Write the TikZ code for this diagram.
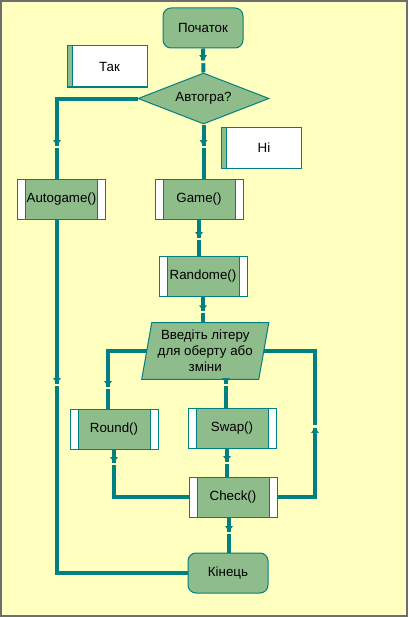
\documentclass[tikz,border=0pt]{standalone}
\usepackage{fontspec}
\setmainfont{Liberation Sans}
\usetikzlibrary{shapes.geometric,arrows.meta,decorations.markings,calc,backgrounds}
\definecolor{bgc}{RGB}{255,255,192}
\definecolor{tealc}{RGB}{0,128,128}
\definecolor{gfill}{RGB}{143,188,139}
\definecolor{framec}{RGB}{110,110,110}
\begin{document}
\begin{tikzpicture}[x=0.75pt,y=-0.75pt,
  every node/.style={font=\fontsize{10pt}{12pt}\selectfont, text=black, inner sep=0pt},
  term/.style={draw=tealc, line width=0.75pt, fill=gfill, rounded corners=6pt, minimum width=60pt, minimum height=30pt},
  dec/.style={diamond, aspect=2.57, draw=tealc, line width=0.75pt, fill=gfill, minimum width=98.25pt, minimum height=38.25pt},
  sub/.style={draw=tealc, line width=0.75pt, fill=white, minimum width=66pt, minimum height=30pt,
     path picture={\fill[gfill] ([xshift=6pt]path picture bounding box.south west) rectangle ([xshift=-6pt]path picture bounding box.north east);
       \draw[tealc, line width=0.75pt] ([xshift=6pt]path picture bounding box.south west) -- ([xshift=6pt]path picture bounding box.north west)
        ([xshift=-6pt]path picture bounding box.south east) -- ([xshift=-6pt]path picture bounding box.north east);}},
  note/.style={draw=tealc, line width=0.75pt, fill=white, minimum width=60pt, minimum height=30.75pt,
     path picture={\fill[gfill] (path picture bounding box.south west) rectangle ([xshift=3.75pt]path picture bounding box.north west);
       \draw[tealc,line width=0.75pt] ([xshift=3.75pt]path picture bounding box.south west) -- ([xshift=3.75pt]path picture bounding box.north west);}},
  iobox/.style={minimum width=87.4pt, minimum height=42pt, align=center},
  conn/.style={draw=tealc, line width=3pt},
  midarr/.style={postaction={decorate, decoration={markings, mark=at position #1 with {\fill[bgc] (0pt,-2.2pt) rectangle (2pt,2.2pt); \arrow[color=tealc]{Triangle[width=5.5pt,length=4pt]}}}}}
]
\useasboundingbox (0,0) rectangle (408,617);
\begin{scope}[on background layer]
  \fill[bgc] (0,0) rectangle (408,617);
  \draw[framec, line width=1.5pt] (1,1) rectangle (407,616);
\end{scope}

\node[term] (start) at (203,28) {Початок};
\node[note] (tak) at (107,66.5) {\hspace*{3.75pt}Так};
\node[dec] (dia) at (203.5,98.5) {Автогра?};
\node[note] (ni) at (261.5,148) {\hspace*{3.75pt}Ні};
\node[sub] (auto) at (61.5,199) {Autogame()};
\node[sub] (game) at (199,199) {Game()};
\node[sub] (rand) at (203,276) {Randome()};
\node[iobox] (para) at (205.25,351) {Введіть літеру\\для оберту або\\зміни};
\begin{scope}[on background layer]
  \draw[tealc, line width=0.75pt, fill=gfill] ($(para.north west)+(5,0)$) -- ($(para.north east)+(5,0)$) -- ($(para.south east)+(-5,0)$) -- ($(para.south west)+(-5,0)$) -- cycle;
\end{scope}
\node[sub] (round) at (114,429) {Round()};
\node[sub] (swap) at (232,428) {Swap()};
\node[sub] (check) at (233,497) {Check()};
\node[term] (end) at (228,573) {Кінець};
\coordinate (loop) at (315,351);

\draw[conn, midarr=-9pt] (start.south) -- (dia.north);
\draw[conn, midarr=-24.75pt] (dia.west) -| ([xshift=-3.375pt]auto.north);
\draw[conn, midarr=-24.75pt] (dia.south) -- (dia.south |- game.north);
\draw[conn, midarr=-13.5pt] (game.south) -- (game.south |- rand.north);
\draw[conn, midarr=-9pt] (rand.south) -- (rand.south |- para.north);
\draw[conn, midarr=-16.5pt] (para.west) -| ([xshift=-4.5pt]round.north);
\draw[conn, midarr=-18pt] ([xshift=-4.5pt]swap.north |- para.south) -- ([xshift=-4.5pt]swap.north);
\draw[conn, midarr=9.75pt] (round.south) |- (check.west);
\draw[conn, midarr=-11.25pt] ([xshift=-3.75pt]swap.south) -- ([xshift=-3.75pt]swap.south |- check.north);
\draw[conn, midarr=80.25pt] (check.east) -| (loop) -- (para.east);
\draw[conn, midarr=-15.75pt] ([xshift=-3pt]check.south) -- ([xshift=-3pt]check.south |- end.north);
\draw[conn, midarr=123pt] ([xshift=-3.375pt]auto.south) |- (end.west);
\end{tikzpicture}
\end{document}
